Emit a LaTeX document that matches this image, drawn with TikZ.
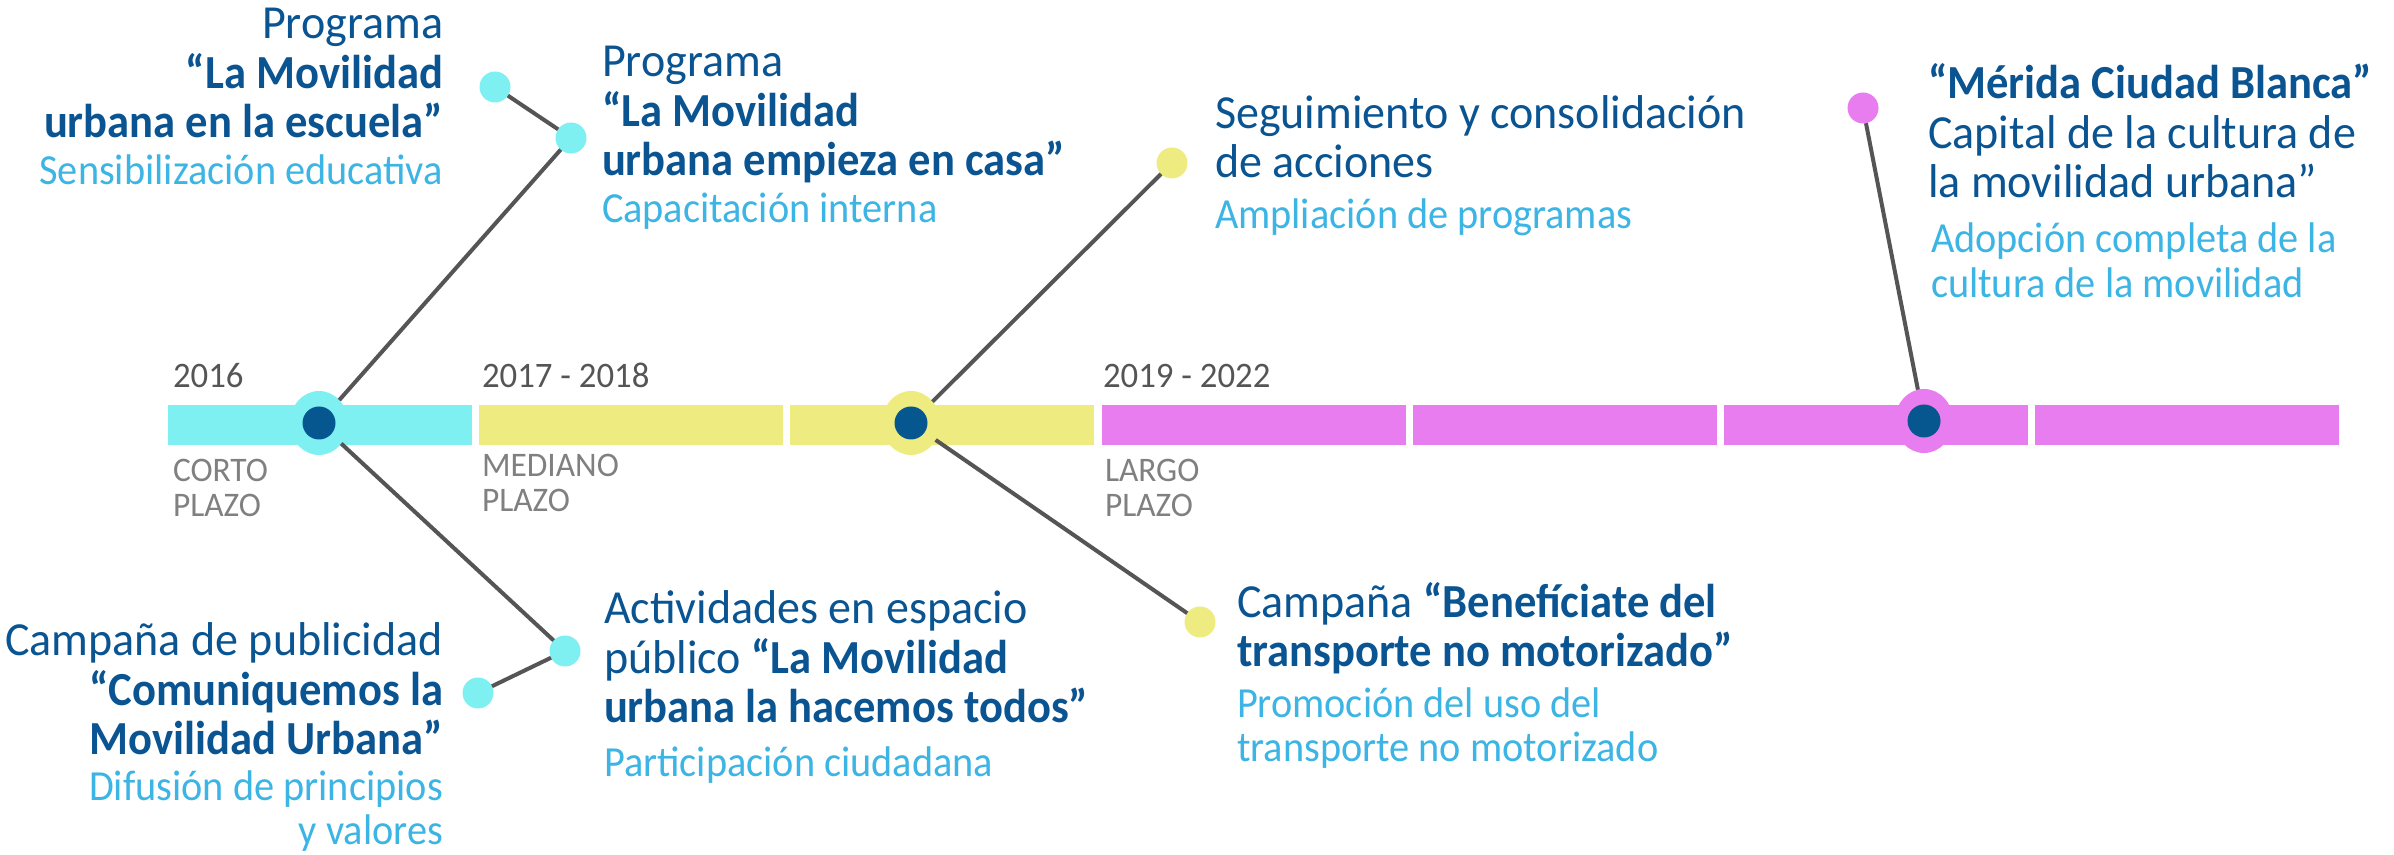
\documentclass[tikz,border=0pt]{standalone}
\usepackage{fontspec}
\setmainfont{Carlito}[FakeStretch=0.97, BoldFeatures={FakeStretch=0.94}]
\newfontfamily\narrowfont{Carlito}[FakeStretch=0.94]
\usetikzlibrary{positioning, shapes.geometric}

\definecolor{mvcyan}{RGB}{127,240,242}
\definecolor{mvyellow}{RGB}{238,236,128}
\definecolor{mvpink}{RGB}{232,125,240}
\definecolor{mvnavy}{RGB}{6,86,144}
\definecolor{mvblue}{RGB}{10,84,146}
\definecolor{mvsky}{RGB}{60,180,228}
\definecolor{mvgrey}{RGB}{85,85,85}

\begin{document}
\begin{tikzpicture}[
  x=0.1mm, y=-0.1mm,
  every node/.style={inner sep=0pt, outer sep=0pt},
  seg/.style={rectangle, minimum width=30.4mm, minimum height=4mm},
  halo/.style={ellipse, minimum width=5.8mm, minimum height=6.4mm},
  core/.style={circle, fill=mvnavy, minimum size=3.3mm},
  pin/.style={circle, minimum size=3.1mm},
  link/.style={mvgrey, line width=0.4mm},
  title/.style={font=\fontsize{13.5pt}{14.2pt}\selectfont, text=mvblue},
  sub/.style={font=\narrowfont\fontsize{12.2pt}{12.8pt}\selectfont, text=mvsky},
  year/.style={font=\fontsize{10.2pt}{12pt}\selectfont, text=mvgrey, anchor=base west},
  term/.style={font=\fontsize{9.8pt}{9.96pt}\selectfont, text=black!50, align=left, anchor=base west},
]
\useasboundingbox (0,0) rectangle (2394,855);

% ================================================================
% Timeline bar: 1 short + 2 medium + 4 long term blocks
% ================================================================
\foreach \i/\col in {0/mvcyan, 1/mvyellow, 2/mvyellow, 3/mvpink, 4/mvpink, 5/mvpink, 6/mvpink}
  \node[seg, fill=\col] (seg\i) at (320+311.2*\i, 425) {};

% --- Hubs on the bar ---
\node[halo, fill=mvcyan]   (hub1) at (319, 423)  {};
\node[halo, fill=mvyellow] (hub2) at (911, 423)  {};
\node[halo, fill=mvpink]   (hub3) at (1924, 421) {};
\foreach \h in {1,2,3}
  \node[core] (core\h) at (hub\h) {};

% --- Period labels (multi-line nodes sit on their last baseline) ---
\node[year] (y1) at (173, 388)  {2016};
\node[year] (y2) at (482, 388)  {2017 - 2018};
\node[year] (y3) at (1103, 388) {2019 - 2022};

\node[term] (p1) at (173, 517)  {CORTO\\PLAZO};
\node[term] (p2) at (482, 512)  {MEDIANO\\PLAZO};
\node[term] (p3) at (1105, 517) {LARGO\\PLAZO};

% ================================================================
% Action pins
% ================================================================
\node[pin, fill=mvcyan]   (pA1) at (495, 87)   {};
\node[pin, fill=mvcyan]   (pA2) at (571, 138)  {};
\node[pin, fill=mvcyan]   (pE1) at (478, 693)  {};
\node[pin, fill=mvcyan]   (pE2) at (565, 651)  {};
\node[pin, fill=mvyellow] (pC)  at (1172, 163) {};
\node[pin, fill=mvyellow] (pG)  at (1200, 622) {};
\node[pin, fill=mvpink]   (pD)  at (1863, 108) {};

% --- Connectors ---
\draw[link] (pA1) -- (pA2);
\draw[link] (pA2) -- (hub1);
\draw[link] (pE1) -- (pE2);
\draw[link] (pE2) -- (hub1);
\draw[link] (pC)  -- (hub2);
\draw[link] (pG)  -- (hub2);
\draw[link] (pD)  -- (hub3);

% ================================================================
% Texts (placed at the baseline of their last line)
% ================================================================
% short term
\node[title, align=right, anchor=base east] (tA) at (443, 138)
  {Programa\\ \textbf{“La Movilidad}\\ \textbf{urbana en la escuela”}};
\node[sub, anchor=base east] (sA) at (443, 185) {Sensibilización educativa};

\node[title, align=left, anchor=base west] (tB) at (602, 176)
  {Programa\\ \textbf{“La Movilidad}\\ \textbf{urbana empieza en casa”}};
\node[sub, anchor=base west] (sB) at (602, 223) {Capacitación interna};

\node[title, align=right, anchor=base east] (tE) at (443, 755)
  {Campaña de publicidad\\ \textbf{“Comuniquemos la}\\ \textbf{Movilidad Urbana”}};
\node[sub, align=right, anchor=base east] (sE) at (443, 845)
  {Difusión de principios\\ y valores};

\node[title, align=left, anchor=base west] (tF) at (604, 723)
  {Actividades en espacio\\ público \textbf{“La Movilidad}\\ \textbf{urbana la hacemos todos”}};
\node[sub, anchor=base west] (sF) at (604, 777) {Participación ciudadana};

% medium term
\node[title, align=left, anchor=base west] (tC) at (1215, 178)
  {Seguimiento y consolidación\\ de acciones};
\node[sub, anchor=base west] (sC) at (1215, 229) {Ampliación de programas};

\node[title, align=left, anchor=base west] (tG) at (1237, 667)
  {Campaña \textbf{“Benefíciate del}\\ \textbf{transporte no motorizado”}};
\node[sub, align=left, anchor=base west] (sG) at (1237, 762)
  {Promoción del uso del\\ transporte no motorizado};

% long term
\node[title, align=left, anchor=base west] (tD) at (1928, 198)
  {\textbf{“Mérida Ciudad Blanca”}\\ Capital de la cultura de\\ la movilidad urbana”};
\node[sub, align=left, anchor=base west] (sD) at (1931, 298)
  {Adopción completa de la\\ cultura de la movilidad};

\end{tikzpicture}
\end{document}
